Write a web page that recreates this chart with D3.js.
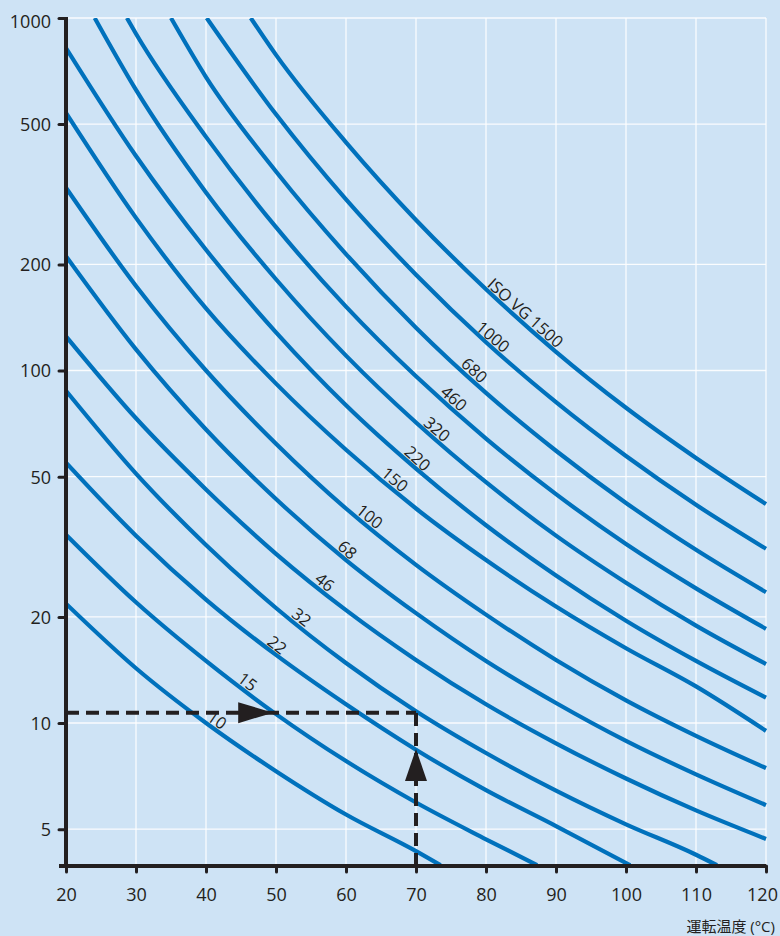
<!DOCTYPE html>
<html><head><meta charset="utf-8">
<script src="https://cdn.jsdelivr.net/npm/d3@7"></script>
<style>
html,body{margin:0;padding:0;background:#cee3f5;}
svg{display:block;}
text{font-family:"Open Sans","Noto Sans CJK JP",sans-serif;}
</style></head><body>
<svg id="chart" width="780" height="936"></svg>
<script>
// ---- data ----
const temperatureTicks = [20,30,40,50,60,70,80,90,100,110,120];
const viscosityTicks = [5,10,20,50,100,200,500,1000];
const grades = ["10","15","22","32","46","68","100","150","220","320","460","680","1000","1500"];
// [temperature °C, viscosity mm²/s]
const vg10   = [[20,21.8],[30,14.3],[40,10],[50,7.3],[60,5.5],[70,4.33],[73.5,3.95]];
const vg15   = [[20,34.2],[30,22.0],[40,15],[50,10.6],[60,7.8],[70,5.95],[80,4.68],[87.3,3.95]];
const vg22   = [[20,54.8],[30,34.0],[40,22.4],[50,15.6],[60,11.3],[70,8.4],[80,6.45],[90,5.1],[100.6,3.95]];
const vg32   = [[20,87.6],[30,51.0],[40,32],[50,21.2],[60,14.8],[70,10.8],[80,8.22],[90,6.43],[100,5.16],[110,4.23],[113,3.95]];
const vg46   = [[20,125],[30,73.2],[40,46],[50,30.2],[60,20.9],[70,15.1],[80,11.3],[90,8.76],[100,6.96],[110,5.65],[120,4.69]];
const vg68   = [[20,211],[30,114.8],[40,68],[50,43.2],[60,29.0],[70,20.5],[80,15.0],[90,11.4],[100,8.9],[110,7.15],[120,5.85]];
const vg100  = [[20,330],[30,173.7],[40,100],[50,62.0],[60,40.6],[70,28.1],[80,20.3],[90,15.1],[100,11.6],[110,9.2],[120,7.45]];
const vg150  = [[20,538],[30,271],[40,150],[50,91.8],[60,59.6],[70,40.6],[80,29.0],[90,21.4],[100,16.3],[110,12.7],[120,9.5]];
const vg220  = [[20,822],[30,406],[40,220],[50,128.3],[60,79.7],[70,52.7],[80,36.4],[90,26.2],[100,19.5],[110,15.0],[120,11.8]];
const vg320  = [[24.1,1000],[30,625],[40,320],[50,181.5],[60,110.2],[70,71.2],[80,48.2],[90,34.0],[100,25.0],[110,18.9],[120,14.7]];
const vg460  = [[28.7,1000],[30,902],[40,460],[50,255],[60,151.8],[70,96.3],[80,64.1],[90,44.6],[100,32.2],[110,24.1],[120,18.5]];
const vg680  = [[35.0,1000],[40,680],[50,367],[60,214],[70,132.3],[80,86.4],[90,59.2],[100,42.1],[110,31.0],[120,23.5]];
const vg1000 = [[40.1,1000],[50,533],[60,305.6],[70,187],[80,120.3],[90,81.3],[100,57.2],[110,41.6],[120,31.2]];
const vg1500 = [[46.4,1000],[50,786],[60,444],[70,267.4],[80,170.1],[90,113.0],[100,78.4],[110,56.5],[120,41.8]];
const curves = [vg10,vg15,vg22,vg32,vg46,vg68,vg100,vg150,vg220,vg320,vg460,vg680,vg1000,vg1500];
// temperature along each curve where its label sits
const labelTemps = [40.9,45.2,49.4,52.9,56.2,59.4,62.6,66.2,69.4,72.2,74.6,77.5,80.2,84.8];
// worked example
const exampleTemp = 70;
const exampleVisc = 10.7;
const arrowRightTip = [49.6, 10.7];
const arrowUpTip = [70, 8.44];

// ---- drawing ----
const svg = d3.select("#chart");
const W = 780, H = 936;
svg.append("rect").attr("width",W).attr("height",H).attr("fill","#cee3f5");

const x = d3.scaleLinear().domain([20,120]).range([66,766]);
const y = d3.scaleLog().domain([3.93,1000]).range([866,18]);
const ink = "#231f20";
const blue = "#0071bc";

// grid
const grid = svg.append("g");
grid.selectAll("line.v").data(temperatureTicks.slice(1)).join("line")
  .attr("x1",d=>x(d)).attr("x2",d=>x(d)).attr("y1",y(1000)).attr("y2",y(3.93))
  .attr("stroke","#fff").attr("stroke-width",1.3).attr("opacity",0.9);
grid.selectAll("line.h").data(viscosityTicks).join("line")
  .attr("x1",x(20)).attr("x2",x(120)).attr("y1",d=>y(d)).attr("y2",d=>y(d))
  .attr("stroke","#fff").attr("stroke-width",1.3).attr("opacity",0.9);

// clip
svg.append("clipPath").attr("id","plotclip").append("rect")
  .attr("x",x(20)).attr("y",y(1000)).attr("width",x(120)-x(20)+2).attr("height",y(3.93)-y(1000));

const line = d3.line().x(d=>x(d[0])).y(d=>y(d[1])).curve(d3.curveMonotoneX);
svg.append("g").attr("clip-path","url(#plotclip)")
  .selectAll("path").data(curves).join("path")
  .attr("d",line).attr("fill","none").attr("stroke",blue).attr("stroke-width",4.2);

// example dashed lines
const dash = svg.append("g");
dash.append("line").attr("x1",x(20)).attr("x2",x(exampleTemp)).attr("y1",y(exampleVisc)).attr("y2",y(exampleVisc))
  .attr("stroke",ink).attr("stroke-width",4).attr("stroke-dasharray","13,7");
dash.append("line").attr("x1",x(exampleTemp)).attr("x2",x(exampleTemp)).attr("y1",y(3.93)).attr("y2",y(exampleVisc))
  .attr("stroke",ink).attr("stroke-width",4).attr("stroke-dasharray","13,7");
{
  const tx = x(arrowRightTip[0]), ty = y(arrowRightTip[1]);
  dash.append("path").attr("d",`M${tx},${ty} L${tx-35},${ty-10.5} L${tx-35},${ty+10.5} Z`).attr("fill",ink);
  const ux = x(arrowUpTip[0]), uy = y(arrowUpTip[1]);
  dash.append("path").attr("d",`M${ux},${uy} L${ux-11},${uy+32} L${ux+11},${uy+32} Z`).attr("fill",ink);
}

// axes
const axes = svg.append("g");
axes.append("line").attr("x1",x(20)).attr("x2",x(20)).attr("y1",y(1000)-1).attr("y2",y(3.93)+2)
  .attr("stroke",ink).attr("stroke-width",4);
axes.append("line").attr("x1",x(20)-7).attr("x2",x(120)).attr("y1",y(3.93)).attr("y2",y(3.93))
  .attr("stroke",ink).attr("stroke-width",3.8);

const yAxis = d3.axisLeft(y).tickValues(viscosityTicks).tickFormat(d3.format("d")).tickSize(7).tickPadding(8).tickSizeOuter(0);
const gy = svg.append("g").attr("transform",`translate(${x(20)},0)`).call(yAxis);
gy.select(".domain").remove();
gy.selectAll(".tick line").attr("stroke",ink).attr("stroke-width",3).attr("stroke-linecap","round");
gy.selectAll(".tick text").attr("fill",ink).style("font-size","18px").attr("dy","0.36em");
gy.selectAll(".tick").filter(d=>d===1000).select("text").attr("dy","0.5em");

const xAxis = d3.axisBottom(x).tickValues(temperatureTicks).tickFormat(d3.format("d")).tickSize(6).tickPadding(16).tickSizeOuter(0);
const gx = svg.append("g").attr("transform",`translate(0,${y(3.93)})`).call(xAxis);
gx.select(".domain").remove();
gx.selectAll(".tick line").attr("stroke",ink).attr("stroke-width",3).attr("stroke-linecap","round");
gx.selectAll(".tick text").attr("fill",ink).style("font-size","18px");
gx.selectAll(".tick").filter(d=>d===120).select("text").attr("dx","-4");

svg.append("text").attr("x",775).attr("y",932).attr("text-anchor","end")
  .attr("fill",ink).style("font-size","15px").text("運転温度 (°C)");

// curve labels
function placeOn(data, t){
  let i = 0;
  while (i < data.length-2 && data[i+1][0] < t) i++;
  const a = data[i], b = data[i+1];
  const x0=x(a[0]), y0=y(a[1]), x1=x(b[0]), y1=y(b[1]);
  const f = (t-a[0])/(b[0]-a[0]);
  return {px:x0+f*(x1-x0), py:y0+f*(y1-y0), ang:Math.atan2(y1-y0,x1-x0)};
}
const labels = svg.append("g");
curves.forEach((c,i)=>{
  const p = placeOn(c, labelTemps[i]);
  const off = 8.5;
  const cx = p.px + off*Math.sin(p.ang), cy = p.py - off*Math.cos(p.ang);
  labels.append("text")
    .attr("transform",`translate(${cx},${cy}) rotate(${p.ang*180/Math.PI})`)
    .attr("text-anchor","middle").attr("dy","0.35em")
    .attr("fill",ink).style("font-size","16.5px")
    .text(i===curves.length-1 ? "ISO VG " + grades[i] : grades[i]);
});
</script>
</body></html>
